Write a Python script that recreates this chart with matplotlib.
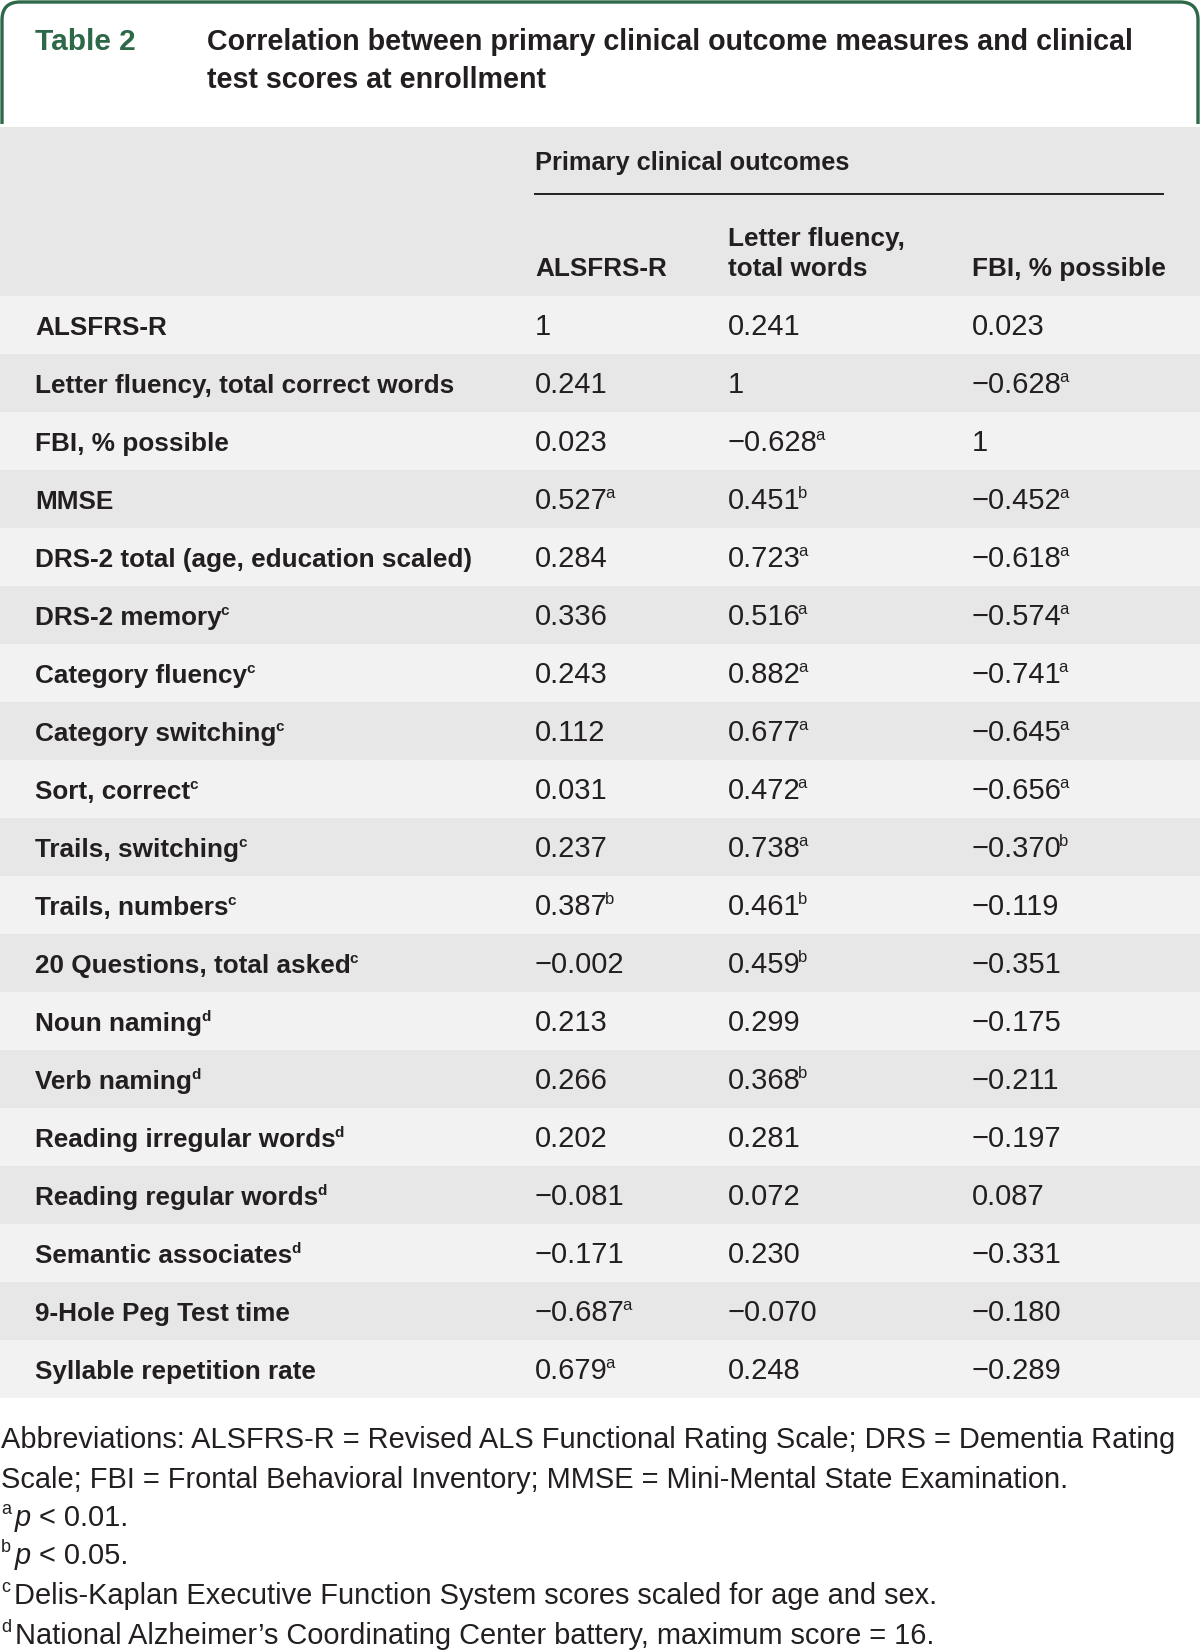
import matplotlib
matplotlib.use('Agg')
import matplotlib.pyplot as plt
from matplotlib.patches import Rectangle, PathPatch
from matplotlib.path import Path

# table content
row_labels = ["ALSFRS-R", "Letter fluency, total correct words", "FBI, % possible", "MMSE",
              "DRS-2 total (age, education scaled)", "DRS-2 memory", "Category fluency",
              "Category switching", "Sort, correct", "Trails, switching", "Trails, numbers",
              "20 Questions, total asked", "Noun naming", "Verb naming", "Reading irregular words",
              "Reading regular words", "Semantic associates", "9-Hole Peg Test time",
              "Syllable repetition rate"]
label_notes = ["", "", "", "", "", "c", "c", "c", "c", "c", "c", "c", "d", "d", "d", "d", "d", "", ""]

col_headers = ["ALSFRS-R", "Letter fluency,\ntotal words", "FBI, % possible"]

alsfrs = [1, 0.241, 0.023, 0.527, 0.284, 0.336, 0.243, 0.112, 0.031, 0.237, 0.387, -0.002,
          0.213, 0.266, 0.202, -0.081, -0.171, -0.687, 0.679]
alsfrs_sig = ["", "", "", "a", "", "", "", "", "", "", "b", "", "", "", "", "", "", "a", "a"]
letter = [0.241, 1, -0.628, 0.451, 0.723, 0.516, 0.882, 0.677, 0.472, 0.738, 0.461, 0.459,
          0.299, 0.368, 0.281, 0.072, 0.230, -0.070, 0.248]
letter_sig = ["", "", "a", "b", "a", "a", "a", "a", "a", "a", "b", "b", "", "b", "", "", "", "", ""]
fbi = [0.023, -0.628, 1, -0.452, -0.618, -0.574, -0.741, -0.645, -0.656, -0.370, -0.119, -0.351,
       -0.175, -0.211, -0.197, 0.087, -0.331, -0.180, -0.289]
fbi_sig = ["", "a", "", "a", "a", "a", "a", "a", "a", "b", "", "", "", "", "", "", "", "", ""]

GREEN = '#2d6948'
INK = '#231f20'
DARK = '#e6e7e6'
LIGHT = '#f2f2f2'
SANS = ['Liberation Sans', 'DejaVu Sans']


def fmt(v):
    if v == 1:
        return "1"
    s = "%.3f" % abs(v)
    return ("\u2212" + s) if v < 0 else s


fig = plt.figure(figsize=(12, 16.52), dpi=100)
ax = fig.add_axes([0, 0, 1, 1])
ax.set_xlim(0, 1200)
ax.set_ylim(1652, 0)
ax.axis('off')
rend = fig.canvas.get_renderer()


def chain(x, y, pieces):
    # pieces: (text, props, rise, dx) drawn one after another on one baseline
    for txt, props, rise, dx in pieces:
        x += dx
        t = ax.text(x, y - rise, txt, va='baseline', ha='left', color=INK,
                    family=SANS, **props)
        bb = t.get_window_extent(rend)
        x = ax.transData.inverted().transform((bb.x1, bb.y0))[0]
    return x


# title box with rounded top corners
r = 18
verts = [(2, 124), (2, r + 2), (2, 2), (r + 2, 2), (1198 - r, 2), (1198, 2), (1198, r + 2), (1198, 124)]
codes = [Path.MOVETO, Path.LINETO, Path.CURVE3, Path.CURVE3, Path.LINETO, Path.CURVE3, Path.CURVE3, Path.LINETO]
ax.add_patch(PathPatch(Path(verts, codes), fill=False, edgecolor=GREEN, lw=2.4))
ax.text(35, 50, "Table 2", color=GREEN, family=SANS, fontsize=21.5, fontweight='bold', va='baseline')
ax.text(207, 50, "Correlation between primary clinical outcome measures and clinical",
        color=INK, family=SANS, fontsize=20.6, fontweight='bold', va='baseline')
ax.text(207, 88, "test scores at enrollment", color=INK, family=SANS, fontsize=20.6,
        fontweight='bold', va='baseline')

# header band
top = 127
row_h = 58
first = 296
ax.add_patch(Rectangle((0, top), 1200, first - top, color=DARK, lw=0))
ax.text(535, 170, "Primary clinical outcomes", color=INK, family=SANS, fontsize=18.3,
        fontweight='bold', va='baseline')
ax.plot([534, 1164], [194, 194], color=INK, lw=1.4, solid_capstyle='butt')
col_x = [535, 728, 972]
for cx, h in zip(col_x, col_headers):
    lines = h.split("\n")
    for k, ln in enumerate(reversed(lines)):
        ax.text(cx, 276 - 30 * k, ln, color=INK, family=SANS, fontsize=18.8,
                fontweight='bold', va='baseline')

# body rows
cols = [(alsfrs, alsfrs_sig), (letter, letter_sig), (fbi, fbi_sig)]
for i, lab in enumerate(row_labels):
    y0 = first + i * row_h
    ax.add_patch(Rectangle((0, y0), 1200, row_h, color=LIGHT if i % 2 == 0 else DARK, lw=0))
    base = y0 + row_h / 2 + 10
    pcs = [(lab, dict(fontsize=18.8, fontweight='bold'), 0, 0)]
    if label_notes[i]:
        pcs.append((label_notes[i], dict(fontsize=11, fontweight='bold'), 10, -1))
    chain(35, base, pcs)
    for cx, (vals, sig) in zip(col_x, cols):
        pcs = [(fmt(vals[i]), dict(fontsize=21), 0, 0)]
        if sig[i]:
            pcs.append((sig[i], dict(fontsize=12), 11, -3))
        chain(cx, base, pcs)

# footnotes
fn = dict(fontsize=20.9)
sp = dict(fontsize=13)
it = dict(fontsize=20.9, style='italic')
chain(1, 1448, [("Abbreviations: ALSFRS-R = Revised ALS Functional Rating Scale; DRS = Dementia Rating", fn, 0, 0)])
chain(1, 1488, [("Scale; FBI = Frontal Behavioral Inventory; MMSE = Mini-Mental State Examination.", fn, 0, 0)])
chain(1, 1526, [("a", sp, 12, 0), ("p", it, 0, 4), (" < 0.01.", fn, 0, 0)])
chain(1, 1564, [("b", sp, 12, 0), ("p", it, 0, 4), (" < 0.05.", fn, 0, 0)])
chain(1, 1604, [("c", sp, 12, 0), ("Delis-Kaplan Executive Function System scores scaled for age and sex.", fn, 0, 4)])
chain(1, 1644, [("d", sp, 12, 0), ("National Alzheimer\u2019s Coordinating Center battery, maximum score = 16.", fn, 0, 4)])

fig.savefig("out.png", dpi=100, facecolor='white')
